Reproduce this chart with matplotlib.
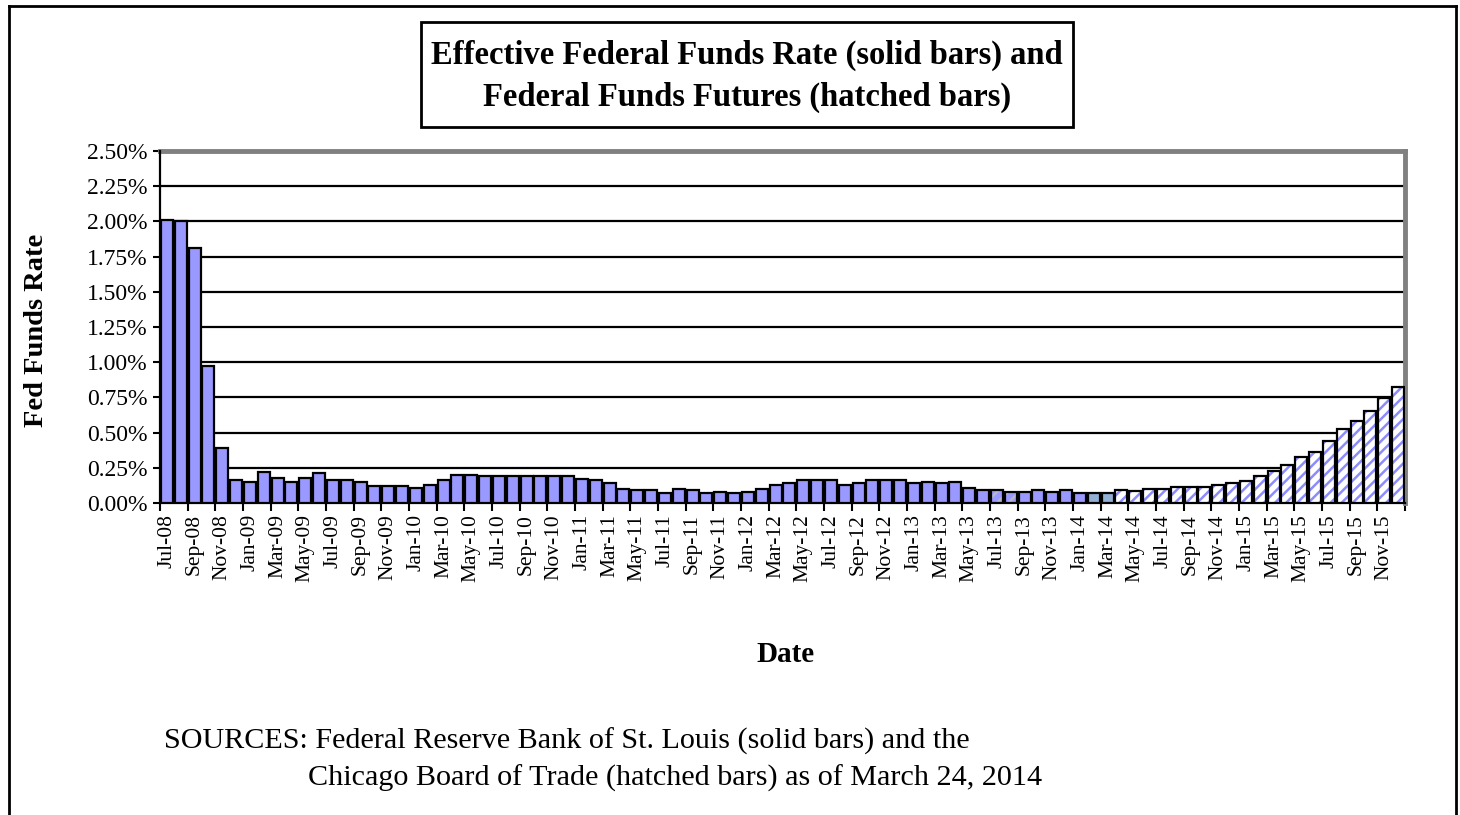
import matplotlib
matplotlib.use("Agg")
import matplotlib.pyplot as plt
from matplotlib.lines import Line2D
from matplotlib.patches import Rectangle

# ---------------- data ----------------
months = ["Jul-08", "Aug-08", "Sep-08", "Oct-08", "Nov-08", "Dec-08",
          "Jan-09", "Feb-09", "Mar-09", "Apr-09", "May-09", "Jun-09",
          "Jul-09", "Aug-09", "Sep-09", "Oct-09", "Nov-09", "Dec-09",
          "Jan-10", "Feb-10", "Mar-10", "Apr-10", "May-10", "Jun-10",
          "Jul-10", "Aug-10", "Sep-10", "Oct-10", "Nov-10", "Dec-10",
          "Jan-11", "Feb-11", "Mar-11", "Apr-11", "May-11", "Jun-11",
          "Jul-11", "Aug-11", "Sep-11", "Oct-11", "Nov-11", "Dec-11",
          "Jan-12", "Feb-12", "Mar-12", "Apr-12", "May-12", "Jun-12",
          "Jul-12", "Aug-12", "Sep-12", "Oct-12", "Nov-12", "Dec-12",
          "Jan-13", "Feb-13", "Mar-13", "Apr-13", "May-13", "Jun-13",
          "Jul-13", "Aug-13", "Sep-13", "Oct-13", "Nov-13", "Dec-13",
          "Jan-14", "Feb-14", "Mar-14", "Apr-14", "May-14", "Jun-14",
          "Jul-14", "Aug-14", "Sep-14", "Oct-14", "Nov-14", "Dec-14",
          "Jan-15", "Feb-15", "Mar-15", "Apr-15", "May-15", "Jun-15",
          "Jul-15", "Aug-15", "Sep-15", "Oct-15", "Nov-15", "Dec-15"]

# Fed funds rate, percent
rates = [2.01, 2.00, 1.81, 0.97, 0.39, 0.16,
         0.15, 0.22, 0.18, 0.15, 0.18, 0.21,
         0.16, 0.16, 0.15, 0.12, 0.12, 0.12,
         0.11, 0.13, 0.16, 0.20, 0.20, 0.19,
         0.19, 0.19, 0.19, 0.19, 0.19, 0.19,
         0.17, 0.16, 0.14, 0.10, 0.09, 0.09,
         0.07, 0.10, 0.09, 0.07, 0.08, 0.07,
         0.08, 0.10, 0.13, 0.14, 0.16, 0.16,
         0.16, 0.13, 0.14, 0.16, 0.16, 0.16,
         0.14, 0.15, 0.14, 0.15, 0.11, 0.09,
         0.09, 0.08, 0.08, 0.09, 0.08, 0.09,
         0.07, 0.07, 0.07, 0.09, 0.085, 0.10,
         0.10, 0.115, 0.115, 0.115, 0.13, 0.14,
         0.155, 0.19, 0.23, 0.27, 0.33, 0.365,
         0.44, 0.525, 0.58, 0.655, 0.745, 0.825]

# bar style kind: "solid" effective rate, "futures" hatched, plus two odd renderings
kinds = (["solid"] * 60 + ["greyhatch"] * 2 + ["solid"] * 5 +
         ["steel"] * 2 + ["futures"] * 21)

y_ticks = [0.00, 0.25, 0.50, 0.75, 1.00, 1.25, 1.50, 1.75, 2.00, 2.25, 2.50]

title_1 = "Effective Federal Funds Rate (solid bars) and"
title_2 = "Federal Funds Futures (hatched bars)"
x_label = "Date"
y_label = "Fed Funds Rate"
source_1 = "SOURCES: Federal Reserve Bank of St. Louis (solid bars) and the"
source_2 = "Chicago Board of Trade (hatched bars) as of March 24, 2014"

# ---------------- figure ----------------
W, H = 1460, 815
plt.rcParams["font.family"] = ["Liberation Serif", "DejaVu Serif"]
plt.rcParams["hatch.linewidth"] = 1.8

fig = plt.figure(figsize=(W / 100, H / 100), dpi=100)
fig.patch.set_facecolor("white")

def fx(px):
    return px / W

def fy(py):
    return 1 - py / H

ax = fig.add_axes([fx(160), fy(503), fx(1405) - fx(160), fy(151) - fy(503)])

SOLID = "#9999FF"
n = len(rates)
xs = list(range(n))
bw = 0.86

for i, (v, k) in enumerate(zip(rates, kinds)):
    if k == "solid":
        ax.bar(i, v, width=bw, color=SOLID, edgecolor="black", linewidth=1.6, zorder=3)
    elif k == "steel":
        ax.bar(i, v, width=bw, color="#92AFD4", edgecolor="black", linewidth=1.6, zorder=3)
    elif k == "greyhatch":
        ax.bar(i, v, width=bw, color=SOLID, edgecolor="#B8B8C4", hatch="///", linewidth=0, zorder=3)
        ax.bar(i, v, width=bw, fill=False, edgecolor="black", linewidth=1.6, zorder=4)
    else:
        ax.bar(i, v, width=bw, color="white", edgecolor="#8C8CFF", hatch="///", linewidth=0, zorder=3)
        ax.bar(i, v, width=bw, fill=False, edgecolor="black", linewidth=1.6, zorder=4)

ax.set_xlim(-0.5, n - 0.5)
ax.set_ylim(0, 2.5)

ax.set_yticks(y_ticks)
ax.set_yticklabels([f"{t:.2f}%" for t in y_ticks], fontsize=17)
ax.yaxis.grid(True, color="black", linewidth=1.6, zorder=1)
ax.tick_params(axis="y", direction="out", length=5, width=1.5, pad=4)

label_pos = xs[::2]
ax.set_xticks(label_pos)
ax.set_xticklabels(months[::2], rotation=90, fontsize=15.5)
ax.tick_params(axis="x", which="major", length=0, pad=8)
ax.set_xticks([p - 0.5 for p in label_pos] + [n - 0.5], minor=True)
ax.tick_params(axis="x", which="minor", direction="out", length=6, width=1.5)

for s in ["left", "bottom"]:
    ax.spines[s].set_color("black")
    ax.spines[s].set_linewidth(1.6)
for s in ["top", "right"]:
    ax.spines[s].set_color("#808080")
    ax.spines[s].set_linewidth(3.5)
ax.spines["left"].set_zorder(5)

# axis labels
fig.text(fx(37), fy(330), y_label, rotation=90, ha="center", va="center",
         fontsize=20.5, fontweight="bold")
fig.text(fx(786), fy(654), x_label, ha="center", va="center",
         fontsize=21, fontweight="bold")

# title box
fig.patches.append(Rectangle((fx(421), fy(127)), fx(1073) - fx(421), fy(22) - fy(127),
                             transform=fig.transFigure, fill=False,
                             edgecolor="black", linewidth=2))
fig.text(fx(747), fy(55), title_1, ha="center", va="center",
         fontsize=23.5, fontweight="bold")
fig.text(fx(747), fy(97), title_2, ha="center", va="center",
         fontsize=23.5, fontweight="bold")

# sources
fig.text(fx(164), fy(741), source_1, ha="left", va="center", fontsize=21.7)
fig.text(fx(308), fy(778), source_2, ha="left", va="center", fontsize=21.7)

# outer frame (top, left, right)
fig.lines.append(Line2D([fx(9), fx(1456)], [fy(6), fy(6)], transform=fig.transFigure,
                        color="black", linewidth=2))
fig.lines.append(Line2D([fx(9), fx(9)], [fy(6), 0], transform=fig.transFigure,
                        color="black", linewidth=2))
fig.lines.append(Line2D([fx(1456), fx(1456)], [fy(6), 0], transform=fig.transFigure,
                        color="black", linewidth=2))

fig.savefig("out.png", dpi=100)
